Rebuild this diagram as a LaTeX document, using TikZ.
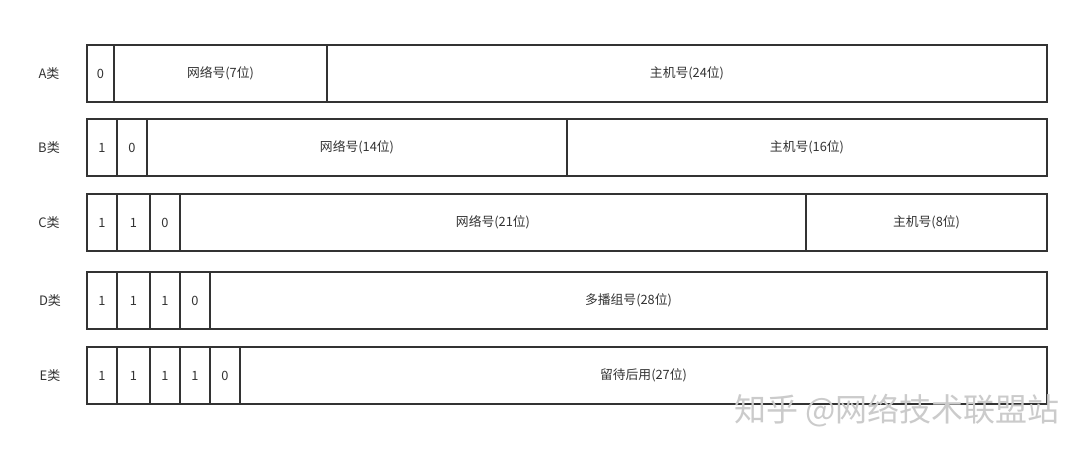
\documentclass[tikz,border=0pt]{standalone}
\usepackage{fontspec}
\newfontfamily\cjk{Noto Sans CJK SC}
\definecolor{linecol}{HTML}{333333}
\definecolor{txtcol}{HTML}{333333}
\definecolor{wmcol}{HTML}{CBCBCB}
\begin{document}
\begin{tikzpicture}[x=1pt,y=-1pt,
  cell/.style={draw=linecol, line width=1.8pt, minimum height=57pt, inner sep=0pt, outer sep=0pt,
    anchor=west, text=txtcol, font=\cjk\fontsize{12.8}{15}\selectfont},
  rowlabel/.style={text=txtcol, font=\cjk\fontsize{13}{15}\selectfont},
  watermark/.style={text=wmcol, font=\cjk\fontsize{32}{36}\selectfont, anchor=east}]
\fill[white] (0,0) rectangle (1090,458);
\useasboundingbox (0,0) rectangle (1090,458);
% A
\node[rowlabel] (la) at (49,73.5) {A类};
\node[cell, minimum width=27pt] (a1) at (87,73.5) {0};
\node[cell, minimum width=213pt] (a2) at (114,73.5) {网络号(7位)};
\node[cell, minimum width=720pt] (a3) at (327,73.5) {主机号(24位)};
% B
\node[rowlabel] (lb) at (49,147.5) {B类};
\node[cell, minimum width=30pt] (b1) at (87,147.5) {1};
\node[cell, minimum width=30pt] (b2) at (117,147.5) {0};
\node[cell, minimum width=420pt] (b3) at (147,147.5) {网络号(14位)};
\node[cell, minimum width=480pt] (b4) at (567,147.5) {主机号(16位)};
% C
\node[rowlabel] (lc) at (49,222.5) {C类};
\node[cell, minimum width=30pt] (c1) at (87,222.5) {1};
\node[cell, minimum width=33pt] (c2) at (117,222.5) {1};
\node[cell, minimum width=30pt] (c3) at (150,222.5) {0};
\node[cell, minimum width=626pt] (c4) at (180,222.5) {网络号(21位)};
\node[cell, minimum width=241pt] (c5) at (806,222.5) {主机号(8位)};
% D
\node[rowlabel] (ld) at (50,300.5) {D类};
\node[cell, minimum width=30pt] (d1) at (87,300.5) {1};
\node[cell, minimum width=33pt] (d2) at (117,300.5) {1};
\node[cell, minimum width=30pt] (d3) at (150,300.5) {1};
\node[cell, minimum width=30pt] (d4) at (180,300.5) {0};
\node[cell, minimum width=837pt] (d5) at (210,300.5) {多播组号(28位)};
% E
\node[rowlabel] (le) at (50,375.5) {E类};
\node[cell, minimum width=30pt] (e1) at (87,375.5) {1};
\node[cell, minimum width=33pt] (e2) at (117,375.5) {1};
\node[cell, minimum width=30pt] (e3) at (150,375.5) {1};
\node[cell, minimum width=30pt] (e4) at (180,375.5) {1};
\node[cell, minimum width=30pt] (e5) at (210,375.5) {0};
\node[cell, minimum width=807pt] (e6) at (240,375.5) {留待后用(27位)};
% watermark
\node[watermark] (wm) at (1063,411) {知乎 @网络技术联盟站};
\end{tikzpicture}
\end{document}
